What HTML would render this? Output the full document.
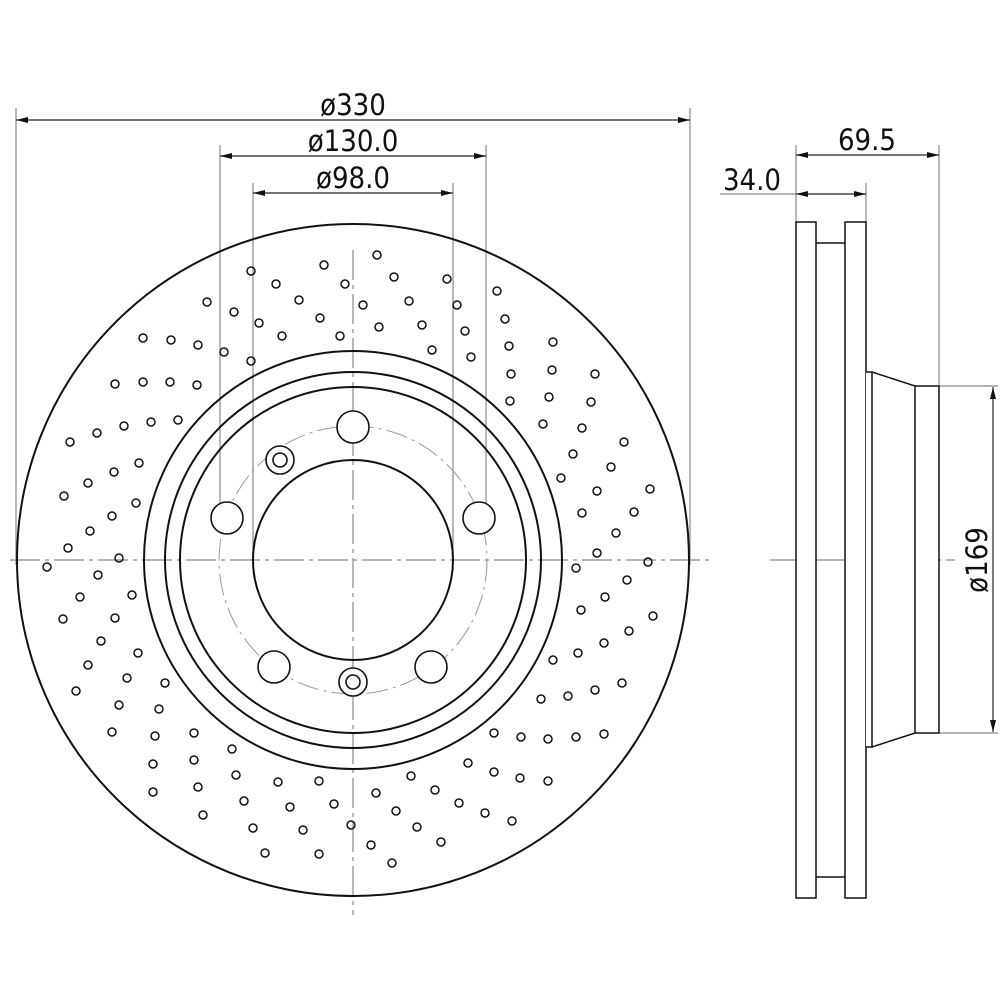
<!DOCTYPE html>
<html><head><meta charset="utf-8"><style>
html,body{margin:0;padding:0;background:#fff;}
svg{display:block;}
text{font-family:"DejaVu Sans Condensed","Liberation Sans",sans-serif;fill:#111;}
</style></head><body>
<svg width="1000" height="1000" viewBox="0 0 1000 1000" xmlns="http://www.w3.org/2000/svg">
<defs>
<marker id="a" viewBox="0 0 12 6" refX="12" refY="3" markerWidth="12" markerHeight="6" orient="auto-start-reverse" markerUnits="userSpaceOnUse"><path d="M0,0 L12,3 L0,6 z" fill="#111"/></marker>
</defs>
<g stroke="#888" stroke-width="1.2" fill="none">
<line x1="16" y1="108" x2="16" y2="565"/>
<line x1="690" y1="108" x2="690" y2="565"/>
<line x1="220" y1="145" x2="220" y2="520"/>
<line x1="486" y1="145" x2="486" y2="520"/>
<line x1="253" y1="183" x2="253" y2="560"/>
<line x1="453" y1="183" x2="453" y2="560"/>
<line x1="796" y1="145" x2="796" y2="222"/>
<line x1="939" y1="145" x2="939" y2="386"/>
<line x1="866" y1="183" x2="866" y2="222"/>
<line x1="939" y1="386" x2="998" y2="386"/>
<line x1="939" y1="733" x2="998" y2="733"/>
<line x1="720" y1="194" x2="796" y2="194"/>
</g>
<g stroke="#222" stroke-width="1.2" fill="none" marker-start="url(#a)" marker-end="url(#a)">
<line x1="16" y1="120" x2="690" y2="120"/>
<line x1="220" y1="156" x2="486" y2="156"/>
<line x1="253" y1="193" x2="453" y2="193"/>
<line x1="796" y1="155" x2="939" y2="155"/>
<line x1="796" y1="194" x2="866" y2="194"/>
<line x1="993" y1="387" x2="993" y2="732"/>
</g>
<text x="353" y="115" font-size="29" text-anchor="middle">ø330</text>
<text x="353" y="151" font-size="29" text-anchor="middle">ø130.0</text>
<text x="353" y="188" font-size="29" text-anchor="middle">ø98.0</text>
<text x="867" y="150" font-size="29" text-anchor="middle">69.5</text>
<text x="752" y="190" font-size="29" text-anchor="middle">34.0</text>
<text x="0" y="0" font-size="29" text-anchor="middle" transform="translate(987,560) rotate(-90)">ø169</text>
<g stroke="#888" stroke-width="1.2" fill="none" stroke-dasharray="30,5,4,5">
<line x1="10" y1="560" x2="712" y2="560"/>
<line x1="353" y1="250" x2="353" y2="915"/>
<line x1="770" y1="560" x2="955" y2="560"/>
</g>
<circle cx="353" cy="560" r="134" stroke="#999" stroke-width="1" fill="none" stroke-dasharray="22,5,3,5"/>
<g stroke="#111" stroke-width="2" fill="none">
<circle cx="353" cy="560" r="336"/>
<circle cx="353" cy="560" r="209"/>
<circle cx="353" cy="560" r="188"/>
<circle cx="353" cy="560" r="173"/>
<circle cx="353" cy="560" r="100"/>
</g>
<g stroke="#111" stroke-width="1.6" fill="#fff">
<circle cx="353" cy="427" r="16"/>
<circle cx="227" cy="518" r="16"/>
<circle cx="479" cy="518" r="16"/>
<circle cx="274" cy="667" r="16"/>
<circle cx="431" cy="667" r="16"/>
<circle cx="280" cy="460" r="14"/><circle cx="280" cy="460" r="7"/>
<circle cx="353" cy="682" r="14"/><circle cx="353" cy="682" r="7"/>
</g>
<g stroke="#111" stroke-width="1.5" fill="#fff">
<path d="M796,222 H816 V898 H796 Z"/>
<path d="M845,222 H866 V898 H845 Z"/>
<path d="M816,243 H845 M816,877 H845"/>
<path d="M866,372 H872 L915,386 H939 V733 H915 L872,747 H866"/>
<path d="M872,372 V747 M915,386 V733"/>
</g>
<g stroke="#111" stroke-width="1.5" fill="none">
<circle cx="251" cy="271" r="4"/><circle cx="324" cy="265" r="4"/><circle cx="377" cy="255" r="4"/>
<circle cx="276" cy="284" r="4"/><circle cx="345" cy="284" r="4"/><circle cx="394" cy="277" r="4"/>
<circle cx="447" cy="279" r="4"/><circle cx="497" cy="291" r="4"/><circle cx="207" cy="302" r="4"/>
<circle cx="234" cy="312" r="4"/><circle cx="299" cy="300" r="4"/><circle cx="363" cy="305" r="4"/>
<circle cx="409" cy="301" r="4"/><circle cx="457" cy="305" r="4"/><circle cx="259" cy="323" r="4"/>
<circle cx="320" cy="318" r="4"/><circle cx="379" cy="327" r="4"/><circle cx="422" cy="325" r="4"/>
<circle cx="465" cy="331" r="4"/><circle cx="143" cy="338" r="4"/><circle cx="171" cy="340" r="4"/>
<circle cx="198" cy="345" r="4"/><circle cx="224" cy="352" r="4"/><circle cx="282" cy="336" r="4"/>
<circle cx="340" cy="336" r="4"/><circle cx="251" cy="361" r="4"/><circle cx="432" cy="350" r="4"/>
<circle cx="471" cy="357" r="4"/><circle cx="115" cy="384" r="4"/><circle cx="143" cy="382" r="4"/>
<circle cx="170" cy="382" r="4"/><circle cx="197" cy="385" r="4"/><circle cx="70" cy="442" r="4"/>
<circle cx="97" cy="433" r="4"/><circle cx="124" cy="426" r="4"/><circle cx="151" cy="422" r="4"/>
<circle cx="178" cy="420" r="4"/><circle cx="139" cy="463" r="4"/><circle cx="114" cy="472" r="4"/>
<circle cx="88" cy="483" r="4"/><circle cx="64" cy="496" r="4"/><circle cx="136" cy="503" r="4"/>
<circle cx="112" cy="516" r="4"/><circle cx="90" cy="531" r="4"/><circle cx="68" cy="548" r="4"/>
<circle cx="119" cy="558" r="4"/><circle cx="47" cy="567" r="4"/><circle cx="98" cy="575" r="4"/>
<circle cx="505" cy="319" r="4"/><circle cx="509" cy="346" r="4"/><circle cx="553" cy="342" r="4"/>
<circle cx="511" cy="374" r="4"/><circle cx="552" cy="370" r="4"/><circle cx="595" cy="374" r="4"/>
<circle cx="510" cy="401" r="4"/><circle cx="549" cy="397" r="4"/><circle cx="591" cy="402" r="4"/>
<circle cx="543" cy="424" r="4"/><circle cx="582" cy="428" r="4"/><circle cx="624" cy="442" r="4"/>
<circle cx="573" cy="454" r="4"/><circle cx="611" cy="467" r="4"/><circle cx="561" cy="478" r="4"/>
<circle cx="597" cy="491" r="4"/><circle cx="650" cy="489" r="4"/><circle cx="582" cy="513" r="4"/>
<circle cx="634" cy="512" r="4"/><circle cx="616" cy="533" r="4"/><circle cx="597" cy="553" r="4"/>
<circle cx="648" cy="562" r="4"/><circle cx="576" cy="568" r="4"/>
<circle cx="80" cy="597" r="4"/><circle cx="132" cy="595" r="4"/><circle cx="63" cy="619" r="4"/>
<circle cx="115" cy="618" r="4"/><circle cx="101" cy="641" r="4"/><circle cx="138" cy="653" r="4"/>
<circle cx="88" cy="665" r="4"/><circle cx="127" cy="678" r="4"/><circle cx="165" cy="683" r="4"/>
<circle cx="76" cy="691" r="4"/><circle cx="119" cy="705" r="4"/><circle cx="159" cy="709" r="4"/>
<circle cx="112" cy="732" r="4"/><circle cx="155" cy="736" r="4"/><circle cx="194" cy="733" r="4"/>
<circle cx="232" cy="749" r="4"/><circle cx="153" cy="764" r="4"/><circle cx="194" cy="760" r="4"/>
<circle cx="236" cy="775" r="4"/><circle cx="153" cy="792" r="4"/><circle cx="198" cy="787" r="4"/>
<circle cx="278" cy="782" r="4"/><circle cx="319" cy="781" r="4"/><circle cx="244" cy="801" r="4"/>
<circle cx="290" cy="807" r="4"/><circle cx="334" cy="804" r="4"/><circle cx="203" cy="815" r="4"/>
<circle cx="253" cy="828" r="4"/><circle cx="303" cy="830" r="4"/><circle cx="351" cy="825" r="4"/>
<circle cx="265" cy="853" r="4"/><circle cx="319" cy="854" r="4"/>
<circle cx="627" cy="580" r="4"/><circle cx="605" cy="597" r="4"/><circle cx="581" cy="610" r="4"/>
<circle cx="653" cy="616" r="4"/><circle cx="629" cy="631" r="4"/><circle cx="604" cy="643" r="4"/>
<circle cx="578" cy="653" r="4"/><circle cx="553" cy="660" r="4"/><circle cx="622" cy="683" r="4"/>
<circle cx="595" cy="690" r="4"/><circle cx="568" cy="696" r="4"/><circle cx="541" cy="699" r="4"/>
<circle cx="494" cy="733" r="4"/><circle cx="521" cy="737" r="4"/><circle cx="548" cy="739" r="4"/>
<circle cx="576" cy="737" r="4"/><circle cx="604" cy="734" r="4"/><circle cx="468" cy="763" r="4"/>
<circle cx="494" cy="772" r="4"/><circle cx="520" cy="778" r="4"/><circle cx="548" cy="781" r="4"/>
<circle cx="411" cy="776" r="4"/><circle cx="376" cy="793" r="4"/><circle cx="435" cy="790" r="4"/>
<circle cx="459" cy="803" r="4"/><circle cx="485" cy="813" r="4"/><circle cx="512" cy="821" r="4"/>
<circle cx="396" cy="811" r="4"/><circle cx="417" cy="827" r="4"/><circle cx="371" cy="845" r="4"/>
<circle cx="441" cy="842" r="4"/><circle cx="392" cy="863" r="4"/>
</g>
</svg>
</body></html>
